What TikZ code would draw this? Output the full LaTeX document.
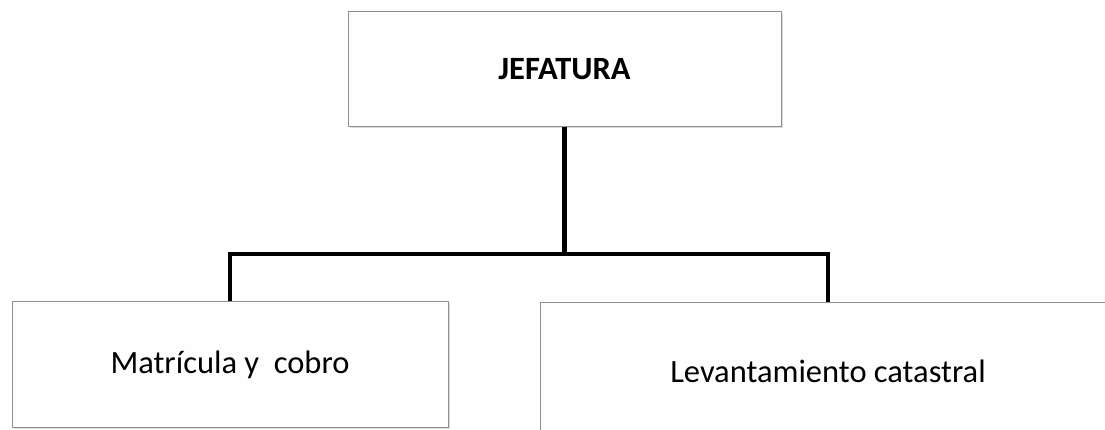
\documentclass[tikz,border=0pt]{standalone}
\usepackage{fontspec}
\setmainfont{Carlito}
\usetikzlibrary{shadows}
\definecolor{boxline}{HTML}{8F8F8F}
\definecolor{boxfill}{HTML}{FEFEFE}
\tikzset{
  orgbox/.style={draw=boxline, line width=1pt, fill=boxfill, inner sep=0pt,
    drop shadow={shadow xshift=1.5pt, shadow yshift=-1.5pt, fill=black!30, opacity=0.45},
    font=\fontsize{32.5}{36}\selectfont},
  conn/.style={line width=4.5pt, black}
}
\begin{document}
\begin{tikzpicture}[x=1pt,y=1pt]
\useasboundingbox (0,0) rectangle (1105,430);
\clip (0,0) rectangle (1105,430);
\fill[white] (0,0) rectangle (1105,430);
\node[orgbox, minimum width=433pt, minimum height=115pt] (top) at (564.5,360.5) {\bfseries JEFATURA};
\node[orgbox, minimum width=436pt, minimum height=126pt] (left) at (230,65) {\raisebox{-3pt}{Matrícula y\ \ cobro}};
\node[orgbox, minimum width=576pt, minimum height=136pt] (right) at (828,59) {Levantamiento catastral};
\coordinate (j) at (564.5,176);
\draw[conn] (top.south) -- (j);
\draw[conn] (left.north) |- (j) -| (right.north);
\end{tikzpicture}
\end{document}
